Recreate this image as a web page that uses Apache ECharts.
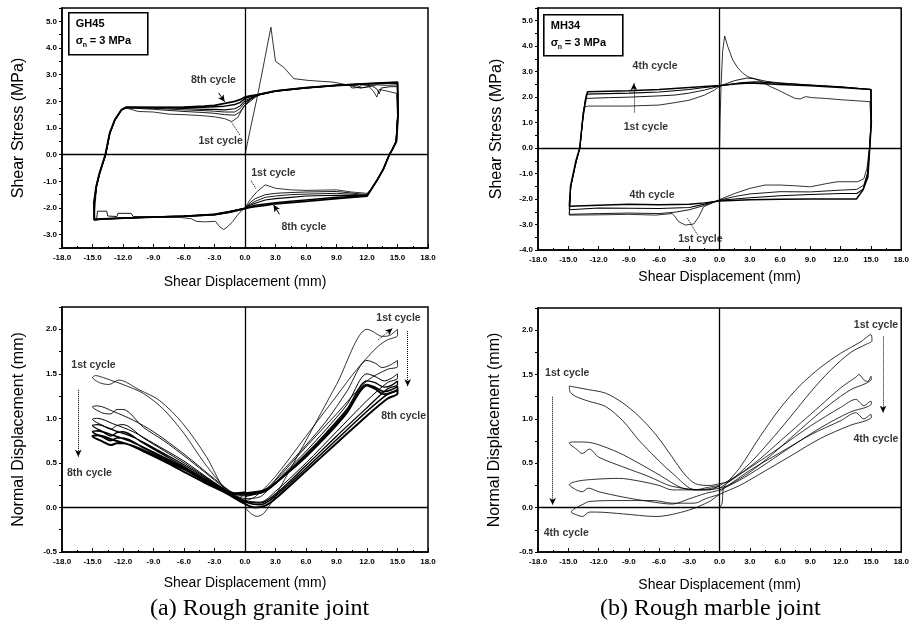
<!DOCTYPE html>
<html><head><meta charset="utf-8">
<script src="https://cdn.jsdelivr.net/npm/echarts/dist/echarts.min.js"></script>
<style>html,body{margin:0;padding:0;background:#fff}#c{width:912px;height:635px}</style>
</head><body><div id="c"></div>
<script>
// ---------- axis ranges / ticks ----------
const xRange = [-18, 18];
const xStep = 3;
const tauRangeA = [-3.5, 5.5];
const tauRangeB = [-4, 5.5];
const dnRange = [-0.5, 2.25];

// ---------- (a) GH45 shear stress, cycles ----------
const gh45Tau1 = [[0,0],[0.6,1.1],[1.2,2.15],[1.9,3.5],[2.3,4.3],[2.55,4.78],[2.75,4.2],[3.0,3.5],[3.8,3.28],[4.8,2.85],[6.1,2.79],[7.5,2.75],[8.7,2.72],[10.0,2.62],[11.3,2.5],[12.2,2.55],[12.6,2.4],[12.97,2.16],[13.2,2.45],[14.0,2.38],[14.9,2.3],[15.0,1.5],[14.85,0.5],[14.5,0.2],[14.2,0],[13.6,-0.55],[13.0,-0.95],[12.5,-1.25],[12.0,-1.45],[10.5,-1.4],[9.0,-1.32],[7.5,-1.33],[6.0,-1.34],[4.5,-1.32],[3.0,-1.26],[2.0,-1.13],[1.2,-1.38],[0.5,-1.69],[0,-2.0],[-0.6,-2.2],[-1.2,-2.5],[-1.7,-2.7],[-2.1,-2.81],[-2.5,-2.7],[-2.9,-2.5],[-4.0,-2.52],[-4.8,-2.5],[-5.3,-2.4],[-6.5,-2.35],[-9,-2.34],[-12,-2.38],[-14.8,-2.44],[-14.8,-2.2],[-14.6,-1.19],[-14.3,-0.7],[-13.7,0],[-13.3,0.8],[-12.8,1.3],[-12.15,1.67],[-11.7,1.75],[-10.5,1.62],[-9,1.6],[-7.5,1.52],[-6,1.5],[-4.5,1.47],[-3,1.42],[-2,1.35],[-1.3,1.24],[-0.7,1.4],[-0.2,1.75],[0.5,2.1],[1.2,2.25],[2,2.32]];
const gh45Tau2 = [[0,1.85],[0.5,2.0],[1,2.15],[1.5,2.25],[3,2.37],[6,2.5],[9,2.58],[10.3,2.6],[10.5,2.5],[11.2,2.52],[11.5,2.62],[12.5,2.58],[13,2.45],[13.2,2.28],[13.4,2.5],[14.3,2.55],[15,2.55],[15.02,1.5],[14.87,0.5],[14.5,0.2],[14.2,0],[13.6,-0.55],[13.0,-0.95],[12.5,-1.25],[12.0,-1.5],[9,-1.38],[6,-1.4],[4.5,-1.42],[3,-1.45],[2,-1.5],[1,-1.65],[0.5,-1.8],[0,-2.0],[-1.5,-2.12],[-3,-2.22],[-6,-2.3],[-9,-2.33],[-11,-2.32],[-11.2,-2.2],[-12.5,-2.2],[-12.6,-2.32],[-13.5,-2.3],[-13.6,-2.12],[-14.5,-2.12],[-14.6,-2.4],[-14.8,-2.42],[-14.82,-1.8],[-14.6,-1.19],[-14.3,-0.7],[-13.7,0],[-13.3,0.8],[-12.8,1.3],[-12.15,1.67],[-11.7,1.76],[-9,1.7],[-6,1.62],[-4,1.58],[-3,1.55],[-2,1.5],[-1,1.48],[-0.5,1.6],[0,1.85],[0.5,2.05],[1,2.18]];
const gh45Tau3 = [[0,1.95],[0.5,2.08],[1,2.18],[1.5,2.26],[3,2.38],[6,2.5],[9,2.6],[11,2.6],[11.4,2.5],[12.2,2.55],[13,2.62],[14,2.6],[15,2.62],[15.03,1.5],[14.86,0.5],[14.5,0.2],[14.2,0],[13.6,-0.55],[13.0,-0.95],[12.5,-1.25],[12.0,-1.52],[9,-1.45],[6,-1.48],[4.5,-1.5],[3,-1.55],[2,-1.6],[1,-1.75],[0.5,-1.86],[0,-2.0],[-1.5,-2.13],[-3,-2.24],[-6,-2.31],[-9,-2.34],[-12,-2.37],[-14,-2.4],[-14.8,-2.43],[-14.82,-1.8],[-14.6,-1.19],[-14.3,-0.7],[-13.7,0],[-13.3,0.8],[-12.8,1.3],[-12.15,1.68],[-11.7,1.77],[-9,1.74],[-6,1.68],[-4,1.65],[-3,1.63],[-2,1.6],[-1,1.6],[-0.5,1.72],[0,1.95],[0.5,2.08]];
const gh45Tau4 = [[0,2.02],[0.5,2.12],[1,2.2],[1.5,2.27],[3,2.39],[6,2.51],[9,2.6],[12,2.65],[15,2.68],[15.04,1.5],[14.85,0.5],[14.5,0.2],[14.2,0],[13.6,-0.55],[13.0,-0.95],[12.5,-1.25],[12.0,-1.53],[9,-1.52],[6,-1.55],[4.5,-1.6],[3,-1.65],[2,-1.7],[1,-1.82],[0.5,-1.9],[0,-2.02],[-1.5,-2.14],[-3,-2.25],[-6,-2.31],[-9,-2.34],[-12,-2.38],[-14,-2.41],[-14.8,-2.44],[-14.82,-1.8],[-14.6,-1.19],[-14.3,-0.7],[-13.7,0],[-13.3,0.8],[-12.8,1.3],[-12.15,1.68],[-11.7,1.77],[-9,1.76],[-6,1.73],[-4,1.7],[-3,1.7],[-2,1.68],[-1,1.72],[-0.5,1.82],[0,2.02],[0.5,2.12]];
const gh45Tau6 = [[0,2.1],[0.5,2.18],[1,2.22],[1.5,2.26],[3,2.39],[6,2.51],[9,2.6],[12,2.66],[15,2.7],[15.05,1.5],[14.88,0.5],[14.5,0.2],[14.2,0],[13.6,-0.55],[13.0,-0.95],[12.5,-1.25],[12.0,-1.55],[9,-1.6],[6,-1.7],[4.5,-1.75],[3,-1.8],[2,-1.85],[1,-1.9],[0.5,-1.95],[0,-2.02],[-1.5,-2.16],[-3,-2.25],[-6,-2.31],[-9,-2.34],[-12,-2.38],[-14,-2.41],[-14.8,-2.44],[-14.84,-1.8],[-14.62,-1.19],[-14.3,-0.7],[-13.72,0],[-13.3,0.8],[-12.8,1.3],[-12.15,1.68],[-11.7,1.77],[-9,1.77],[-6,1.77],[-4,1.78],[-3,1.8],[-2,1.82],[-1,1.88],[-0.5,1.95],[0,2.1],[0.5,2.18]];
const gh45Tau8 = [[0,2.16],[0.5,2.2],[1,2.23],[1.5,2.27],[3,2.39],[6,2.51],[9,2.6],[12,2.66],[15,2.72],[15.06,1.5],[14.9,0.5],[14.5,0.2],[14.2,0],[13.6,-0.55],[13.0,-0.95],[12.5,-1.25],[12.0,-1.55],[9,-1.65],[6,-1.75],[4.5,-1.8],[3,-1.84],[2,-1.9],[1,-1.95],[0.5,-1.98],[0,-2.02],[-1.5,-2.15],[-3,-2.25],[-6,-2.31],[-9,-2.34],[-12,-2.38],[-14,-2.41],[-14.85,-2.44],[-14.86,-1.8],[-14.64,-1.19],[-14.32,-0.7],[-13.74,0],[-13.32,0.8],[-12.82,1.3],[-12.17,1.68],[-11.7,1.78],[-9,1.77],[-6,1.78],[-4,1.82],[-3,1.85],[-2,1.92],[-1,2.0],[-0.5,2.06],[0,2.16],[0.5,2.2]];

// ---------- (b) MH34 shear stress, cycles ----------
const mh34Tau1 = [[0,0],[0.05,1.2],[0.15,2.5],[0.3,3.8],[0.5,4.4],[0.6,4.45],[0.8,4.0],[1.3,3.46],[1.8,3.15],[2.3,2.94],[2.8,2.8],[3.5,2.72],[4.2,2.6],[5.0,2.42],[5.8,2.28],[6.7,2.1],[7.5,1.95],[8.0,1.93],[8.5,2.02],[9.2,1.98],[10.5,1.95],[12,1.9],[13.5,1.86],[14.9,1.82],[15.0,1.0],[14.85,0],[14.6,-0.8],[14.3,-1.2],[13.7,-1.32],[11.7,-1.32],[10.5,-1.4],[9,-1.52],[7.5,-1.48],[6,-1.45],[4.5,-1.45],[3,-1.58],[1.5,-1.78],[0,-2.02],[-0.76,-2.16],[-1.58,-2.3],[-2.07,-2.7],[-2.57,-2.98],[-3.4,-3.02],[-4.05,-2.89],[-4.4,-2.7],[-4.7,-2.57],[-6.35,-2.63],[-9,-2.6],[-12,-2.62],[-14.9,-2.63],[-14.75,-1.5],[-14.2,-0.5],[-13.85,0],[-13.6,1.0],[-13.35,1.62],[-13,1.65],[-9,1.65],[-6,1.69],[-4.5,1.78],[-3,1.88],[-1.5,2.08],[-0.5,2.28],[0,2.43]];
const mh34Tau2 = [[0,2.43],[0.8,2.55],[1.5,2.65],[2.7,2.75],[3.5,2.72],[4.5,2.63],[6,2.55],[9,2.47],[12,2.4],[15,2.3],[15.02,1.0],[14.86,0],[14.65,-1.0],[14.3,-1.45],[13.6,-1.62],[12,-1.65],[9,-1.72],[6,-1.71],[3,-1.8],[1.5,-1.9],[0,-2.04],[-1.5,-2.25],[-3,-2.42],[-4.5,-2.52],[-6,-2.57],[-9,-2.55],[-12,-2.57],[-14.9,-2.6],[-14.75,-1.5],[-14.2,-0.5],[-13.85,0],[-13.55,1.2],[-13.3,1.95],[-11,1.98],[-9,2.0],[-6,2.05],[-4.5,2.08],[-3,2.16],[-1.5,2.28],[0,2.43]];
const mh34Tau3 = [[0,2.44],[1,2.5],[2,2.56],[3.5,2.6],[6,2.55],[9,2.48],[12,2.41],[15,2.3],[15.03,1.0],[14.87,0],[14.67,-1.0],[14.25,-1.6],[13.6,-1.78],[12,-1.78],[9,-1.82],[6,-1.87],[3,-1.95],[0,-2.05],[-1.5,-2.2],[-3,-2.33],[-6,-2.37],[-9,-2.36],[-12,-2.35],[-14.9,-2.42],[-14.75,-1.5],[-14.2,-0.5],[-13.85,0],[-13.5,1.4],[-13.2,2.12],[-9,2.16],[-6,2.2],[-3,2.3],[-1.5,2.38],[0,2.44]];
const mh34Tau4 = [[0,2.46],[1.5,2.52],[3,2.56],[6,2.5],[9,2.45],[12,2.38],[15,2.3],[15.04,1.0],[14.88,0],[14.7,-1.13],[14.2,-1.65],[13.56,-2.0],[12,-2.0],[9,-2.0],[6,-2.01],[3,-2.03],[0,-2.08],[-1.5,-2.15],[-3,-2.2],[-6,-2.22],[-9,-2.2],[-12,-2.24],[-14.9,-2.28],[-14.78,-1.5],[-14.25,-0.5],[-13.87,0],[-13.5,1.4],[-13.1,2.21],[-9,2.25],[-6,2.3],[-3,2.38],[-1.5,2.42],[0,2.46]];

// ---------- (a) GH45 normal displacement, cycles ----------
const gh45Dn1 = [[0,0],[0.6,-0.07],[1.2,-0.1],[1.8,-0.07],[2.4,0.02],[3,0.13],[6,0.75],[9,1.38],[12,2.0],[12.5,1.98],[13.5,1.92],[14.2,1.93],[15,2.0],[15,1.93],[14,1.88],[13,1.8],[11,1.55],[9,1.25],[6,0.8],[3,0.35],[1,0.12],[0,0.08],[-1.9,0.19],[-3.8,0.57],[-6.1,0.94],[-8.4,1.2],[-10.4,1.32],[-12.4,1.43],[-13.4,1.38],[-14.3,1.4],[-15,1.46],[-14.7,1.48],[-14,1.46],[-13,1.42],[-12,1.38],[-10,1.28],[-8,1.1],[-6,0.83],[-4,0.5],[-2,0.22],[-0.8,0.1],[0,0.15]];
const gh45Dn2 = [[0,0.12],[2,0.2],[4,0.45],[6,0.7],[8,0.97],[10,1.3],[12,1.65],[12.8,1.62],[13.5,1.57],[14.3,1.6],[15,1.65],[15,1.58],[14,1.55],[12,1.42],[9,1.05],[6,0.68],[3,0.3],[1.5,0.12],[0,0.1],[-2,0.22],[-4,0.4],[-6,0.58],[-8,0.75],[-10,0.9],[-12,1.1],[-12.6,1.1],[-13.2,1.05],[-14,1.06],[-15,1.13],[-14.5,1.14],[-13,1.08],[-11,0.98],[-9,0.85],[-6,0.6],[-3,0.32],[-1,0.15],[0,0.13]];
const gh45Dn3 = [[0,0.13],[2,0.18],[4,0.4],[6,0.63],[8,0.88],[10,1.15],[12,1.5],[12.8,1.47],[13.7,1.42],[14.4,1.45],[15,1.5],[15,1.45],[14,1.4],[12,1.2],[9,0.85],[6,0.5],[3,0.18],[1.5,0.06],[0,0.08],[-2,0.2],[-4,0.35],[-6,0.5],[-8,0.64],[-10,0.78],[-12,0.93],[-12.6,0.92],[-13.2,0.88],[-14,0.92],[-15,0.99],[-14.5,1.0],[-13,0.94],[-11,0.85],[-9,0.72],[-6,0.52],[-3,0.28],[-1,0.15],[0,0.14]];
const gh45Dn4 = [[0,0.14],[2,0.18],[4,0.38],[6,0.6],[8,0.84],[10,1.1],[12,1.42],[12.8,1.4],[13.7,1.35],[14.4,1.37],[15,1.42],[15,1.38],[14,1.33],[12,1.12],[9,0.8],[6,0.47],[3,0.15],[1.5,0.05],[0,0.07],[-2,0.19],[-4,0.32],[-6,0.46],[-8,0.59],[-10,0.72],[-12,0.85],[-12.6,0.84],[-13.2,0.8],[-14,0.85],[-15,0.92],[-14.5,0.93],[-13,0.87],[-11,0.79],[-9,0.67],[-6,0.48],[-3,0.27],[-1,0.15],[0,0.15]];
const gh45Dn6 = [[0,0.15],[2,0.19],[4,0.37],[6,0.58],[8,0.82],[10,1.08],[12,1.38],[12.8,1.35],[13.7,1.3],[14.4,1.32],[15,1.36],[15,1.32],[14,1.27],[12,1.08],[9,0.76],[6,0.44],[3,0.13],[1.5,0.03],[0,0.06],[-2,0.18],[-4,0.3],[-6,0.43],[-8,0.55],[-10,0.67],[-12,0.78],[-12.6,0.78],[-13.2,0.75],[-14,0.79],[-15,0.85],[-14.5,0.86],[-13,0.81],[-11,0.73],[-9,0.62],[-6,0.45],[-3,0.26],[-1,0.15],[0,0.16]];
const gh45Dn8 = [[0,0.16],[2,0.2],[4,0.37],[6,0.57],[8,0.8],[10,1.06],[12,1.37],[12.8,1.33],[13.7,1.27],[14.4,1.29],[15,1.32],[15,1.28],[14,1.22],[12,1.03],[9,0.72],[6,0.41],[3,0.1],[2,0.02],[1,0.0],[0,0.04],[-2,0.17],[-4,0.28],[-6,0.4],[-8,0.52],[-10,0.63],[-12,0.72],[-12.6,0.72],[-13.2,0.7],[-14,0.74],[-15,0.8],[-14.5,0.81],[-13,0.76],[-11,0.69],[-9,0.59],[-6,0.43],[-3,0.25],[-1,0.16],[0,0.17]];

// ---------- (b) MH34 normal displacement, cycles ----------
const mh34Dn1 = [[0,0],[0.25,0.05],[0.35,0.2],[0.6,0.26],[2,0.45],[4,0.8],[6,1.12],[8,1.38],[10,1.58],[12,1.74],[14,1.87],[15,1.95],[15.1,1.88],[14.5,1.84],[13,1.75],[11,1.55],[9,1.3],[7,1.02],[5,0.75],[3,0.5],[1,0.3],[0,0.27],[-1,0.25],[-2.4,0.27],[-3.5,0.38],[-4.7,0.57],[-6.3,0.82],[-8,1.03],[-9.6,1.18],[-11.3,1.29],[-13,1.33],[-14.9,1.37],[-14.8,1.3],[-14.2,1.25],[-13,1.2],[-11.3,1.14],[-9.6,0.98],[-8,0.76],[-6.3,0.56],[-4.7,0.39],[-2.4,0.2],[-1,0.2],[0,0.25]];
const mh34Dn2 = [[0,0.25],[2,0.38],[4,0.55],[6,0.75],[8,0.95],[10,1.15],[12,1.35],[13.5,1.47],[13.8,1.5],[14.3,1.44],[14.7,1.42],[15,1.48],[15.05,1.45],[14.5,1.4],[13,1.33],[11,1.17],[9,0.98],[7,0.78],[5,0.58],[3,0.4],[1,0.26],[0,0.22],[-1.4,0.2],[-4.7,0.24],[-7,0.35],[-9.6,0.46],[-12,0.57],[-12.9,0.66],[-13.6,0.61],[-14.2,0.66],[-14.9,0.73],[-14.5,0.74],[-13.5,0.74],[-12.3,0.72],[-10,0.62],[-8,0.5],[-6,0.37],[-3.7,0.22],[-2,0.2],[0,0.24]];
const mh34Dn3 = [[0,0.22],[3,0.45],[6,0.68],[9,0.92],[12,1.13],[13.5,1.22],[14.3,1.15],[15,1.2],[15.05,1.17],[14.5,1.13],[13,1.08],[10,0.9],[7,0.68],[4,0.45],[2,0.31],[0,0.2],[-1.4,0.16],[-3,0.1],[-4.7,0.04],[-7,0.07],[-9.6,0.12],[-12,0.18],[-13,0.22],[-13.6,0.18],[-14.2,0.2],[-14.9,0.26],[-14,0.3],[-12.3,0.32],[-10,0.33],[-8,0.3],[-6,0.25],[-4.7,0.2],[-2.5,0.2],[-1.1,0.23],[0,0.25]];
const mh34Dn4 = [[0,0.18],[3,0.42],[6,0.62],[9,0.82],[12,0.98],[13.5,1.07],[14.3,1.0],[15,1.05],[15.05,1.02],[14.5,0.98],[13,0.93],[10,0.78],[7,0.58],[4,0.38],[2,0.25],[0,0.15],[-1,0.07],[-3.1,-0.03],[-6.3,-0.1],[-9.6,-0.07],[-12.2,-0.05],[-12.9,-0.05],[-13.6,-0.1],[-14.2,-0.08],[-14.7,-0.05],[-14.5,-0.02],[-13.5,0.04],[-12.9,0.07],[-9.6,0.08],[-6.5,0.08],[-4.7,0.05],[-2.5,0.05],[-1.4,0.1],[0,0.15]];

// ---------- annotations (text, x, y) ----------
const notesA1 = [['8th cycle',-3.1,2.8],['1st cycle',-2.4,0.5],['1st cycle',2.8,-0.68],['8th cycle',5.8,-2.7]];
const notesB1 = [['4th cycle',-6.4,3.2],['1st cycle',-7.3,0.84],['4th cycle',-6.7,-1.85],['1st cycle',-1.9,-3.57]];
const notesA2 = [['1st cycle',-14.9,1.6],['8th cycle',-15.3,0.38],['1st cycle',15.1,2.13],['8th cycle',15.6,1.03]];
const notesB2 = [['1st cycle',-15.1,1.52],['4th cycle',-15.2,-0.29],['1st cycle',15.5,2.06],['4th cycle',15.5,0.77]];

const FONT = 'Liberation Sans, Arial, sans-serif';

const grids = [
  {left:62, top:8, width:366, height:240},
  {left:538, top:8, width:365, height:242},
  {left:62, top:307, width:366, height:245},
  {left:538, top:308, width:365, height:244}
];

function xAx(i, gap){
  return {gridIndex:i, type:'value', min:xRange[0], max:xRange[1], interval:xStep,
    axisLine:{show:true,onZero:false,lineStyle:{color:'#000',width:1.5}},
    axisTick:{show:true,inside:true,length:4,lineStyle:{color:'#000',width:1}},
    minorTick:{show:true,splitNumber:2,length:2,lineStyle:{color:'#000'}},
    splitLine:{show:false},
    axisLabel:{formatter:v=>v.toFixed(1),fontSize:8,fontWeight:'bold',color:'#000',margin:6,fontFamily:FONT},
    name:'Shear Displacement (mm)', nameLocation:'middle', nameGap:gap,
    nameTextStyle:{fontSize:14,color:'#000',fontFamily:FONT}};
}
function yAx(i, rng, step, labStep, name, gap){
  return {gridIndex:i, type:'value', min:rng[0], max:rng[1], interval:step,
    axisLine:{show:true,onZero:false,lineStyle:{color:'#000',width:1.5}},
    axisTick:{show:true,inside:false,length:3,lineStyle:{color:'#000',width:1}},
    splitLine:{show:false},
    axisLabel:{formatter:v=>{const r=v/labStep; return Math.abs(r-Math.round(r))<1e-6 ? v.toFixed(1) : '';},
      fontSize:8,fontWeight:'bold',color:'#000',margin:5,fontFamily:FONT},
    name:name, nameLocation:'middle', nameGap:gap, nameRotate:90,
    nameTextStyle:{fontSize:16,color:'#000',fontFamily:FONT}};
}

function curve(data, gi, w, smooth){
  return {type:'line', xAxisIndex:gi, yAxisIndex:gi, data:data, showSymbol:false, symbol:'none',
    smooth:smooth||false, lineStyle:{color:'#000', width:w}, silent:true, z:3};
}

function arrow(p1, p2, dotted, head){
  return [{coord:p1, symbol:'none', lineStyle:{type:dotted?'dotted':'solid', width:1, color:'#000'}},
          {coord:p2, symbol:head?'arrow':'none', symbolSize:head?[5,7]:0}];
}

function notes(gi, list, arrows){
  return {type:'scatter', xAxisIndex:gi, yAxisIndex:gi, symbolSize:0, silent:true, z:5,
    itemStyle:{color:'rgba(0,0,0,0)'},
    data:list.map(n=>({name:n[0], value:[n[1],n[2]]})),
    label:{show:true, position:'inside', formatter:'{b}', color:'#000', fontSize:10.5, fontWeight:'bold', fontFamily:FONT},
    markLine:{silent:true, symbol:['none','none'], animation:false, label:{show:false},
      lineStyle:{color:'#000', width:1.3, type:'solid'},
      data:[{xAxis:0},{yAxis:0}].concat(arrows)}};
}

const series = [
  curve(gh45Tau1,0,0.8), curve(gh45Tau2,0,0.9), curve(gh45Tau3,0,0.9), curve(gh45Tau4,0,1.1), curve(gh45Tau6,0,1.5), curve(gh45Tau8,0,1.8),
  notes(0, notesA1, [arrow([-2.6,2.32],[-2.0,1.98],false,true), arrow([-0.5,0.74],[-1.3,1.2],true,false),
                     arrow([0.6,-0.98],[1.1,-1.3],true,false), arrow([3.4,-2.24],[2.8,-1.88],false,true)]),
  curve(mh34Tau1,1,0.8), curve(mh34Tau2,1,0.9), curve(mh34Tau3,1,1.1), curve(mh34Tau4,1,1.5),
  notes(1, notesB1, [arrow([-8.5,1.4],[-8.5,2.55],true,true), arrow([-2.2,-3.4],[-3.2,-2.75],true,false)]),
  curve(gh45Dn1,2,0.8,0.3), curve(gh45Dn2,2,0.9,0.3), curve(gh45Dn3,2,1.0,0.3), curve(gh45Dn4,2,1.3,0.3), curve(gh45Dn6,2,1.6,0.3), curve(gh45Dn8,2,2.0,0.3),
  notes(2, notesA2, [arrow([-16.4,1.32],[-16.4,0.57],true,true), arrow([16.0,1.98],[16.0,1.36],true,true), arrow([13.1,1.88],[14.5,2.01],true,true)]),
  curve(mh34Dn1,3,0.8,0.3), curve(mh34Dn2,3,0.8,0.3), curve(mh34Dn3,3,0.8,0.3), curve(mh34Dn4,3,0.8,0.3),
  notes(3, notesB2, [arrow([-16.55,1.25],[-16.55,0.03],true,true), arrow([16.2,1.93],[16.2,1.07],true,true)])
];

function infoBox(x, y, w, h, label){
  return {type:'group', left:x, top:y, children:[
    {type:'rect', shape:{x:0,y:0,width:w,height:h}, style:{fill:'#fff', stroke:'#000', lineWidth:1.6}},
    {type:'text', x:7, y:6, style:{text:label, font:'bold 11px '+FONT, fill:'#000'}},
    {type:'text', x:7, y:23, style:{text:'σ', font:'bold 11px '+FONT, fill:'#000'}},
    {type:'text', x:14, y:29, style:{text:'n', font:'bold 7px '+FONT, fill:'#000'}},
    {type:'text', x:21, y:23, style:{text:'= 3 MPa', font:'bold 11px '+FONT, fill:'#000'}}
  ]};
}

const option = {
  animation:false,
  backgroundColor:'#fff',
  grid: grids.map(g=>Object.assign({show:true, borderColor:'#000', borderWidth:1.5, backgroundColor:'transparent'}, g)),
  xAxis:[xAx(0,27), xAx(1,20), xAx(2,24), xAx(3,26)],
  yAxis:[
    yAx(0, tauRangeA, 0.5, 1, 'Shear Stress (MPa)', 35),
    yAx(1, tauRangeB, 0.5, 1, 'Shear Stress (MPa)', 33),
    yAx(2, dnRange, 0.25, 0.5, 'Normal Displacement (mm)', 35),
    yAx(3, dnRange, 0.25, 0.5, 'Normal Displacement (mm)', 35)
  ],
  series: series,
  graphic:[
    infoBox(68,12,79,42,'GH45'),
    infoBox(543,14,79,41,'MH34'),
    {type:'text', left:150, top:597, style:{text:'(a) Rough granite joint', font:'24px Liberation Serif, serif', fill:'#000'}},
    {type:'text', left:600, top:597, style:{text:'(b) Rough marble joint', font:'24px Liberation Serif, serif', fill:'#000'}}
  ]
};

const chart = echarts.init(document.getElementById('c'), null, {renderer:'canvas'});
chart.setOption(option);
</script></body></html>
